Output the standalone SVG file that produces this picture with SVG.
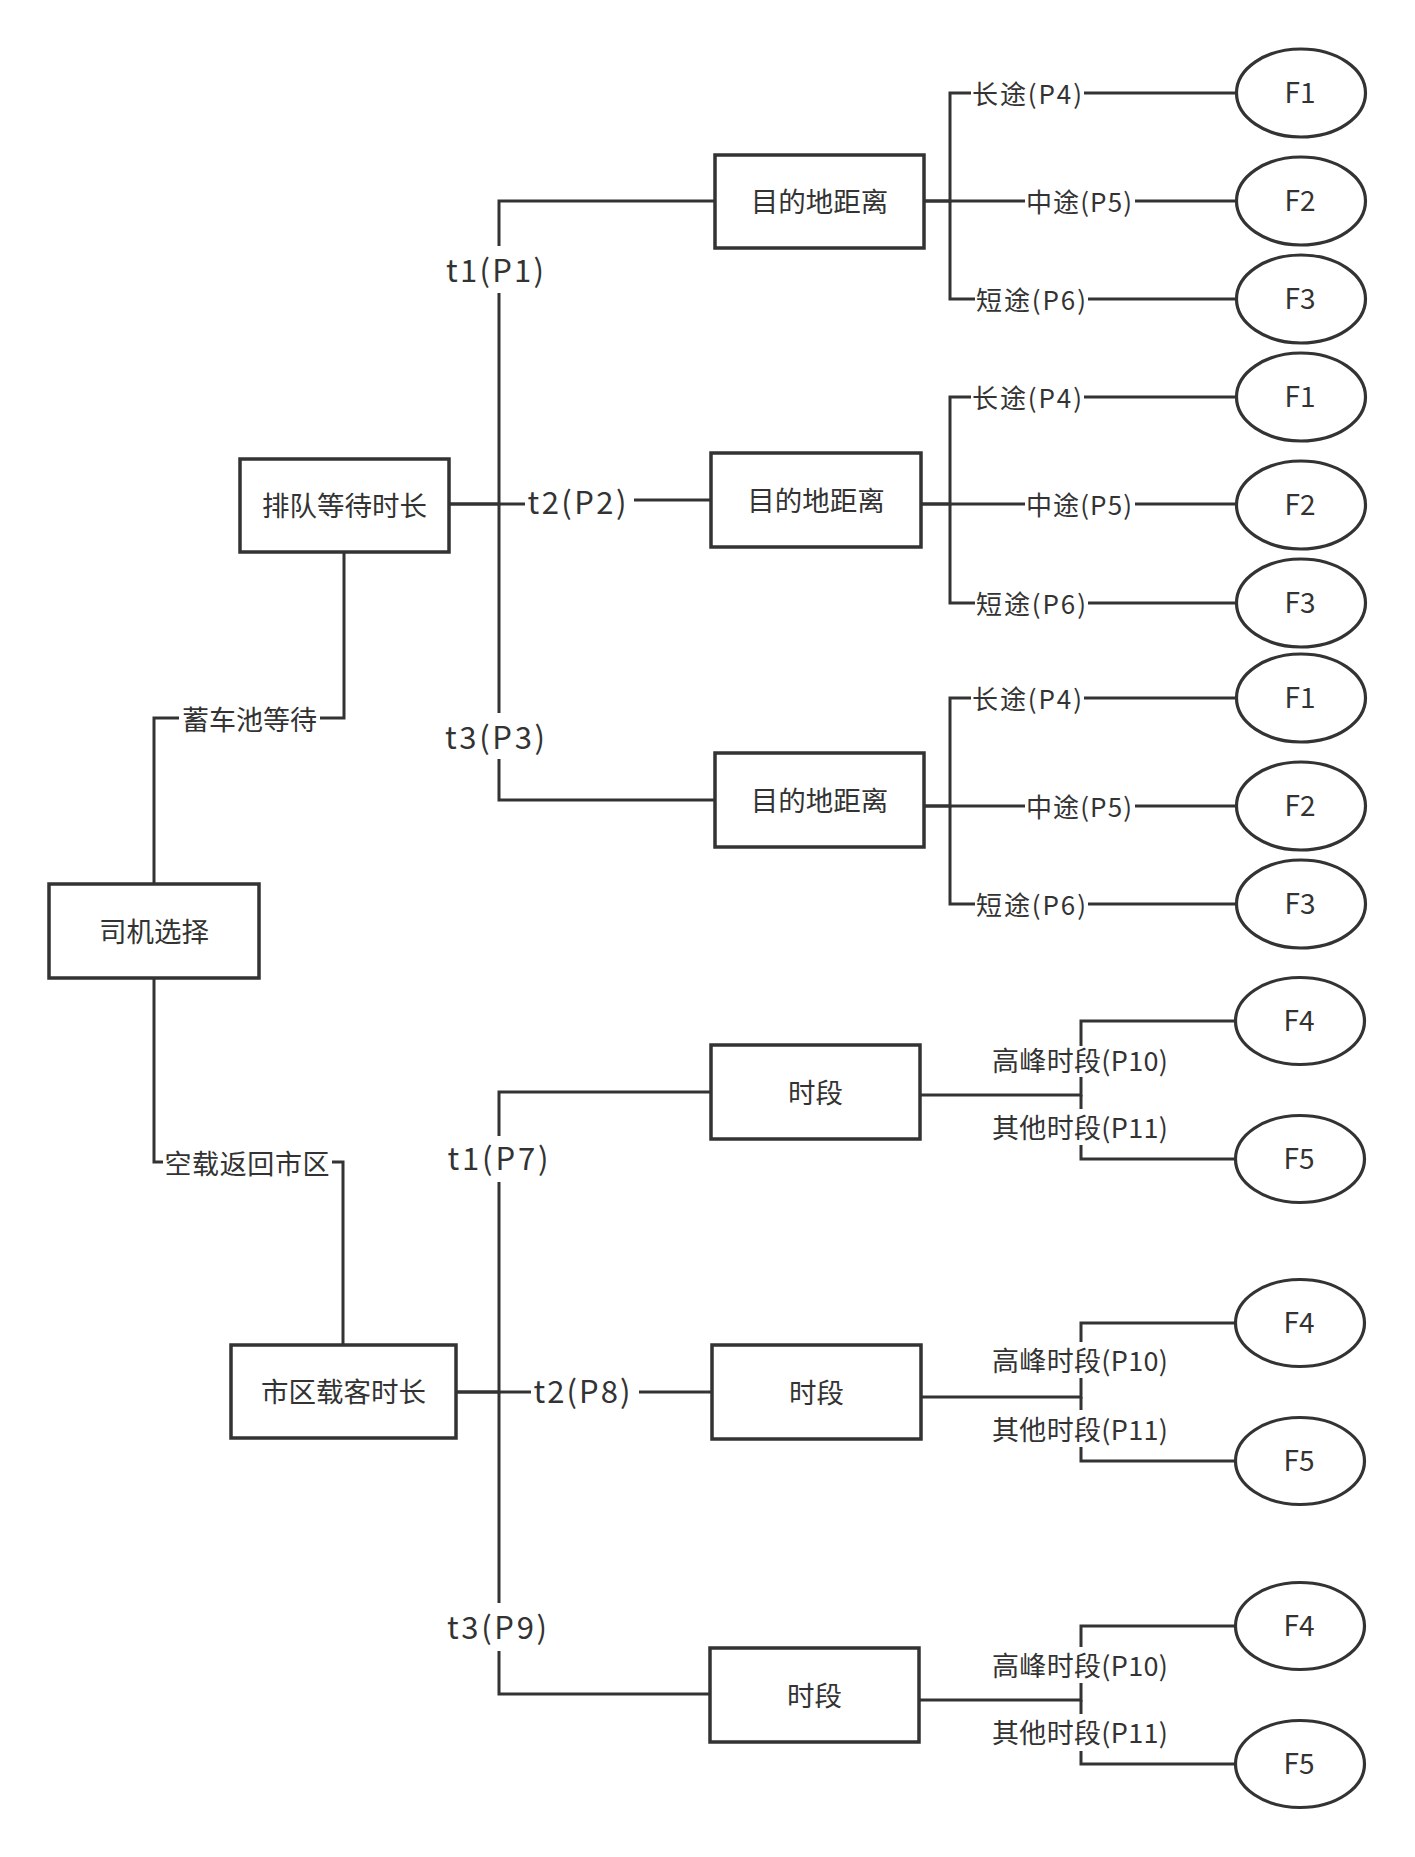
<svg xmlns="http://www.w3.org/2000/svg" width="1415" height="1857" viewBox="0 0 1415 1857">
<style>
  .node rect { fill:#ffffff; stroke:#333333; stroke-width:3.5; }
  .node ellipse { fill:#ffffff; stroke:#333333; stroke-width:3.2; }
  .conn path { fill:none; stroke:#333333; stroke-width:3; stroke-linejoin:miter; }
  .bg { fill:#ffffff; stroke:none; }
  text { font-family:"Noto Sans CJK SC","Noto Sans",sans-serif; fill:#333333; dominant-baseline:central; text-anchor:middle; }
  .bx { font-size:27.5px; }
  .lb { font-size:26px; }
  .lb27 { font-size:27px; }
  .tl { font-size:31px; }
  .f { font-size:28px; }
</style>
<rect x="0" y="0" width="1415" height="1857" fill="#ffffff"/>

<g id="connectors" class="conn">
  <path d="M154 884 V718 H344 V552"/>
  <path d="M154 978 V1162 H343 V1345"/>
  <path d="M449 504 H499 V201 H715"/>
  <path d="M449 504 H580 V500 H711"/>
  <path d="M499 504 V800 H715"/>
  <path d="M924 201 H950 V93 H1236"/>
  <path d="M924 201 H1236"/>
  <path d="M950 201 V299 H1236"/>
  <path d="M921 504 H950 V397 H1236"/>
  <path d="M921 504 H1236"/>
  <path d="M950 504 V603 H1236"/>
  <path d="M924 806 H950 V698 H1236"/>
  <path d="M924 806 H1236"/>
  <path d="M950 806 V904 H1236"/>
  <path d="M456 1392 H499 V1092 H711"/>
  <path d="M456 1392 H712"/>
  <path d="M499 1392 V1694 H710"/>
  <path d="M920 1095 H1081 V1021 H1236"/>
  <path d="M1081 1095 V1159 H1236"/>
  <path d="M921 1397 H1081 V1323 H1236"/>
  <path d="M1081 1397 V1461 H1236"/>
  <path d="M919 1700 H1081 V1626 H1236"/>
  <path d="M1081 1700 V1764 H1236"/>
</g>

<g id="connector-labels">
  <rect class="bg" x="179" y="704" width="141" height="28"/>
  <text class="lb27" x="249.5" y="718">蓄车池等待</text>
  <rect class="bg" x="163" y="1148" width="169" height="28"/>
  <text class="lb27" x="247" y="1162" textLength="165" lengthAdjust="spacing">空载返回市区</text>

  <rect class="bg" x="444" y="246" width="102" height="47"/>
  <text class="tl" x="495" y="268" textLength="98" lengthAdjust="spacing">t1(P1)</text>
  <rect class="bg" x="525" y="484" width="109" height="38"/>
  <text class="tl" x="577" y="500" textLength="99" lengthAdjust="spacing">t2(P2)</text>
  <rect class="bg" x="444" y="713" width="102" height="46"/>
  <text class="tl" x="495" y="735" textLength="100" lengthAdjust="spacing">t3(P3)</text>

  <rect class="bg" x="446" y="1136" width="105" height="46"/>
  <text class="tl" x="498" y="1156" textLength="101" lengthAdjust="spacing">t1(P7)</text>
  <rect class="bg" x="531" y="1374" width="108" height="38"/>
  <text class="tl" x="582" y="1389" textLength="97" lengthAdjust="spacing">t2(P8)</text>
  <rect class="bg" x="445" y="1603" width="104" height="48"/>
  <text class="tl" x="497" y="1625" textLength="100" lengthAdjust="spacing">t3(P9)</text>

  <rect class="bg" x="971" y="78" width="113" height="30"/>
  <text class="lb" x="1027" y="92" textLength="110" lengthAdjust="spacing">长途(P4)</text>
  <rect class="bg" x="1025" y="186" width="110" height="30"/>
  <text class="lb" x="1079" y="200" textLength="106" lengthAdjust="spacing">中途(P5)</text>
  <rect class="bg" x="975" y="284" width="113" height="30"/>
  <text class="lb" x="1031" y="298" textLength="110" lengthAdjust="spacing">短途(P6)</text>

  <rect class="bg" x="971" y="382" width="113" height="30"/>
  <text class="lb" x="1027" y="396" textLength="110" lengthAdjust="spacing">长途(P4)</text>
  <rect class="bg" x="1025" y="489" width="110" height="30"/>
  <text class="lb" x="1079" y="503" textLength="106" lengthAdjust="spacing">中途(P5)</text>
  <rect class="bg" x="975" y="588" width="113" height="30"/>
  <text class="lb" x="1031" y="602" textLength="110" lengthAdjust="spacing">短途(P6)</text>

  <rect class="bg" x="971" y="683" width="113" height="30"/>
  <text class="lb" x="1027" y="697" textLength="110" lengthAdjust="spacing">长途(P4)</text>
  <rect class="bg" x="1025" y="791" width="110" height="30"/>
  <text class="lb" x="1079" y="805" textLength="106" lengthAdjust="spacing">中途(P5)</text>
  <rect class="bg" x="975" y="889" width="113" height="30"/>
  <text class="lb" x="1031" y="903" textLength="110" lengthAdjust="spacing">短途(P6)</text>

  <rect class="bg" x="989" y="1046" width="181" height="31"/>
  <text class="lb27" x="1080" y="1059" textLength="176" lengthAdjust="spacing">高峰时段(P10)</text>
  <rect class="bg" x="989" y="1109" width="181" height="36"/>
  <text class="lb27" x="1080" y="1126" textLength="176" lengthAdjust="spacing">其他时段(P11)</text>

  <rect class="bg" x="989" y="1342" width="181" height="36"/>
  <text class="lb27" x="1080" y="1359" textLength="176" lengthAdjust="spacing">高峰时段(P10)</text>
  <rect class="bg" x="989" y="1410" width="181" height="37"/>
  <text class="lb27" x="1080" y="1428" textLength="176" lengthAdjust="spacing">其他时段(P11)</text>

  <rect class="bg" x="989" y="1647" width="181" height="36"/>
  <text class="lb27" x="1080" y="1664" textLength="176" lengthAdjust="spacing">高峰时段(P10)</text>
  <rect class="bg" x="989" y="1714" width="181" height="37"/>
  <text class="lb27" x="1080" y="1731" textLength="176" lengthAdjust="spacing">其他时段(P11)</text>
</g>

<g id="n-driver" class="node"><rect x="49" y="884" width="210" height="94"/><text class="bx" x="154" y="930">司机选择</text></g>
<g id="n-queue" class="node"><rect x="240" y="459" width="209" height="93"/><text class="bx" x="344.5" y="504">排队等待时长</text></g>
<g id="n-city" class="node"><rect x="231" y="1345" width="225" height="93"/><text class="bx" x="343.5" y="1390">市区载客时长</text></g>

<g id="n-dist1" class="node"><rect x="715" y="155" width="209" height="93"/><text class="bx" x="819.5" y="200">目的地距离</text></g>
<g id="n-dist2" class="node"><rect x="711" y="453" width="210" height="94"/><text class="bx" x="816" y="499">目的地距离</text></g>
<g id="n-dist3" class="node"><rect x="715" y="753" width="209" height="94"/><text class="bx" x="819.5" y="799">目的地距离</text></g>

<g id="n-time1" class="node"><rect x="711" y="1045" width="209" height="94"/><text class="bx" x="815.5" y="1091">时段</text></g>
<g id="n-time2" class="node"><rect x="712" y="1345" width="209" height="94"/><text class="bx" x="816.5" y="1391">时段</text></g>
<g id="n-time3" class="node"><rect x="710" y="1648" width="209" height="94"/><text class="bx" x="814.5" y="1694">时段</text></g>

<g id="n-f1a" class="node"><ellipse cx="1301" cy="93" rx="64.5" ry="44"/><text class="f" x="1300" y="91">F1</text></g>
<g id="n-f2a" class="node"><ellipse cx="1301" cy="201" rx="64.5" ry="44"/><text class="f" x="1300" y="199">F2</text></g>
<g id="n-f3a" class="node"><ellipse cx="1301" cy="299" rx="64.5" ry="44"/><text class="f" x="1300" y="297">F3</text></g>
<g id="n-f1b" class="node"><ellipse cx="1301" cy="397" rx="64.5" ry="44"/><text class="f" x="1300" y="395">F1</text></g>
<g id="n-f2b" class="node"><ellipse cx="1301" cy="505" rx="64.5" ry="44"/><text class="f" x="1300" y="503">F2</text></g>
<g id="n-f3b" class="node"><ellipse cx="1301" cy="603" rx="64.5" ry="44"/><text class="f" x="1300" y="601">F3</text></g>
<g id="n-f1c" class="node"><ellipse cx="1301" cy="698" rx="64.5" ry="44"/><text class="f" x="1300" y="696">F1</text></g>
<g id="n-f2c" class="node"><ellipse cx="1301" cy="806" rx="64.5" ry="44"/><text class="f" x="1300" y="804">F2</text></g>
<g id="n-f3c" class="node"><ellipse cx="1301" cy="904" rx="64.5" ry="44"/><text class="f" x="1300" y="902">F3</text></g>

<g id="n-f4a" class="node"><ellipse cx="1300" cy="1021" rx="64.5" ry="43.5"/><text class="f" x="1299" y="1019">F4</text></g>
<g id="n-f5a" class="node"><ellipse cx="1300" cy="1159" rx="64.5" ry="43.5"/><text class="f" x="1299" y="1157">F5</text></g>
<g id="n-f4b" class="node"><ellipse cx="1300" cy="1323" rx="64.5" ry="43.5"/><text class="f" x="1299" y="1321">F4</text></g>
<g id="n-f5b" class="node"><ellipse cx="1300" cy="1461" rx="64.5" ry="43.5"/><text class="f" x="1299" y="1459">F5</text></g>
<g id="n-f4c" class="node"><ellipse cx="1300" cy="1626" rx="64.5" ry="43.5"/><text class="f" x="1299" y="1624">F4</text></g>
<g id="n-f5c" class="node"><ellipse cx="1300" cy="1764" rx="64.5" ry="43.5"/><text class="f" x="1299" y="1762">F5</text></g>
</svg>
